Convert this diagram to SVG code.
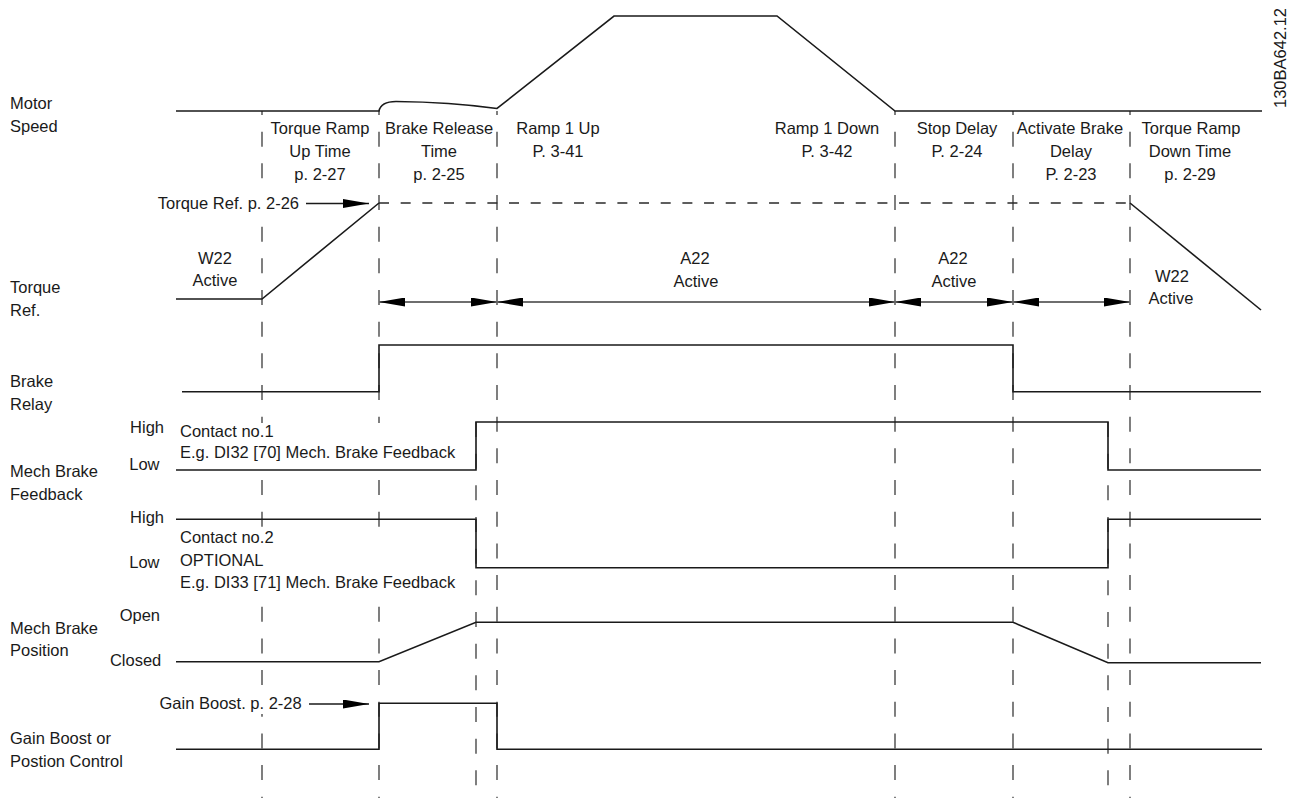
<svg xmlns="http://www.w3.org/2000/svg" width="1291" height="798" viewBox="0 0 1291 798">
<style>
text{font-family:"Liberation Sans",Arial,sans-serif;font-size:16.5px;fill:#1a1a1a}
.m{text-anchor:middle}
.e{text-anchor:end}
.sig{fill:none;stroke:#1a1a1a;stroke-width:1.6}
.vd{fill:none;stroke:#2a2a2a;stroke-width:1.2;stroke-dasharray:15 16.67}
.hd{fill:none;stroke:#2a2a2a;stroke-width:1.3;stroke-dasharray:10 11.67}
.dim{fill:none;stroke:#6e6e6e;stroke-width:1.8}
.mask{fill:#fff}
</style>
<defs>
<marker id="tri" viewBox="0 0 26 9" refX="26" refY="4.5" markerWidth="26" markerHeight="9" markerUnits="userSpaceOnUse" orient="auto-start-reverse">
<path d="M0,0 L26,4.5 L0,9 Z" fill="#000"/>
</marker>
</defs>
<rect width="1291" height="798" fill="#fff"/>

<g id="gridlines">
<line class="vd" x1="262" y1="111" x2="262" y2="798" stroke-dashoffset="11"/>
<line class="vd" x1="379" y1="111" x2="379" y2="798" stroke-dashoffset="11"/>
<line class="vd" x1="497" y1="111" x2="497" y2="798" stroke-dashoffset="11"/>
<line class="vd" x1="895" y1="111" x2="895" y2="798" stroke-dashoffset="11"/>
<line class="vd" x1="1013" y1="111" x2="1013" y2="798" stroke-dashoffset="11"/>
<line class="vd" x1="1130" y1="111" x2="1130" y2="798" stroke-dashoffset="11"/>
<line class="vd" x1="476" y1="422" x2="476" y2="798"/>
<line class="vd" x1="1108" y1="422" x2="1108" y2="798"/>
<line class="hd" x1="379" y1="203" x2="1130" y2="203"/>
</g>

<g id="masks">
<rect class="mask" x="155" y="195" width="146" height="17"/>
<rect class="mask" x="178" y="423" width="280" height="41"/>
<rect class="mask" x="178" y="529" width="280" height="65"/>
<rect class="mask" x="156" y="695" width="147" height="19"/>
</g>

<g id="motor-speed">
<path class="sig" d="M176,111 L379,111 Q381,101.5 396,101.5 Q450,102 497,108.5 L614,16 L777,16 L895,111 L1262,111"/>
<text x="10" y="109.3">Motor</text>
<text x="10" y="132.3">Speed</text>
</g>

<g id="headings">
<text class="m" x="320" y="134">Torque Ramp</text>
<text class="m" x="320" y="157">Up Time</text>
<text class="m" x="320" y="179.5">p. 2-27</text>
<text class="m" x="439" y="134">Brake Release</text>
<text class="m" x="439" y="157">Time</text>
<text class="m" x="439" y="179.5">p. 2-25</text>
<text class="m" x="558" y="134">Ramp 1 Up</text>
<text class="m" x="558" y="157">P. 3-41</text>
<text class="m" x="827" y="134">Ramp 1 Down</text>
<text class="m" x="827" y="157">P. 3-42</text>
<text class="m" x="957" y="134">Stop Delay</text>
<text class="m" x="957" y="157">P. 2-24</text>
<text class="m" x="1070" y="134">Activate Brake</text>
<text class="m" x="1071" y="157">Delay</text>
<text class="m" x="1071" y="179.5">P. 2-23</text>
<text class="m" x="1191" y="134">Torque Ramp</text>
<text class="m" x="1190" y="157">Down Time</text>
<text class="m" x="1190" y="179.5">p. 2-29</text>
</g>

<g id="torque-ref">
<path class="sig" d="M176,299 L262,299 L379,203"/>
<path class="sig" d="M1130,203 L1261,310"/>
<text class="e" x="299" y="209.4">Torque Ref. p. 2-26</text>
<line class="sig" x1="306" y1="203.5" x2="369" y2="203.5" marker-end="url(#tri)"/>
<text x="10" y="292.7">Torque</text>
<text x="10" y="316">Ref.</text>
<text class="m" x="215" y="264.3">W22</text>
<text class="m" x="215" y="285.7">Active</text>
<text class="m" x="695" y="264">A22</text>
<text class="m" x="696" y="286.7">Active</text>
<text class="m" x="953" y="264">A22</text>
<text class="m" x="954" y="286.7">Active</text>
<text class="m" x="1172" y="281.7">W22</text>
<text class="m" x="1171" y="304">Active</text>
</g>

<g id="connectors">
<line class="dim" x1="379" y1="302" x2="497" y2="302" marker-start="url(#tri)" marker-end="url(#tri)"/>
<line class="dim" x1="497" y1="302" x2="895" y2="302" marker-start="url(#tri)" marker-end="url(#tri)"/>
<line class="dim" x1="895" y1="302" x2="1013" y2="302" marker-start="url(#tri)" marker-end="url(#tri)"/>
<line class="dim" x1="1013" y1="302" x2="1130" y2="302" marker-start="url(#tri)" marker-end="url(#tri)"/>
</g>

<g id="brake-relay">
<path class="sig" d="M182,391.7 L379,391.7 L379,345 L1013,345 L1013,391.7 L1261,391.7"/>
<text x="10" y="386.7">Brake</text>
<text x="10" y="409.5">Relay</text>
</g>

<g id="mech-brake-feedback">
<path class="sig" d="M176,470 L476,470 L476,422 L1108,422 L1108,470 L1261,470"/>
<path class="sig" d="M176,519.3 L476,519.3 L476,567.7 L1108,567.7 L1108,519.3 L1261,519.3"/>
<text x="10" y="476.7">Mech Brake</text>
<text x="10" y="500">Feedback</text>
<text class="e" x="164" y="433.3">High</text>
<text class="e" x="159.5" y="470">Low</text>
<text class="e" x="164" y="523.3">High</text>
<text class="e" x="159.5" y="568.3">Low</text>
<text x="180" y="437.3">Contact no.1</text>
<text x="180" y="458.3">E.g. DI32 [70] Mech. Brake Feedback</text>
<text x="180" y="542.7">Contact no.2</text>
<text x="180" y="565.7">OPTIONAL</text>
<text x="180" y="588.3">E.g. DI33 [71] Mech. Brake Feedback</text>
</g>

<g id="mech-brake-position">
<path class="sig" d="M176,661.7 L379,661.7 L476,622.3 L1013,622.3 L1108,662.7 L1261,662.7"/>
<text x="10" y="634.3">Mech Brake</text>
<text x="10" y="656">Position</text>
<text class="e" x="160" y="620.7">Open</text>
<text class="e" x="161.3" y="666">Closed</text>
</g>

<g id="gain-boost">
<path class="sig" d="M176,749.3 L379,749.3 L379,703.3 L497,703.3 L497,749.3 L1262,749.3"/>
<text class="e" x="301.7" y="709">Gain Boost. p. 2-28</text>
<line class="sig" x1="309" y1="704" x2="369" y2="704" marker-end="url(#tri)"/>
<text x="10" y="744.3">Gain Boost or</text>
<text x="10" y="766.7">Postion Control</text>
</g>

<g id="code">
<text transform="translate(1286,108) rotate(-90)">130BA642.12</text>
</g>
</svg>
